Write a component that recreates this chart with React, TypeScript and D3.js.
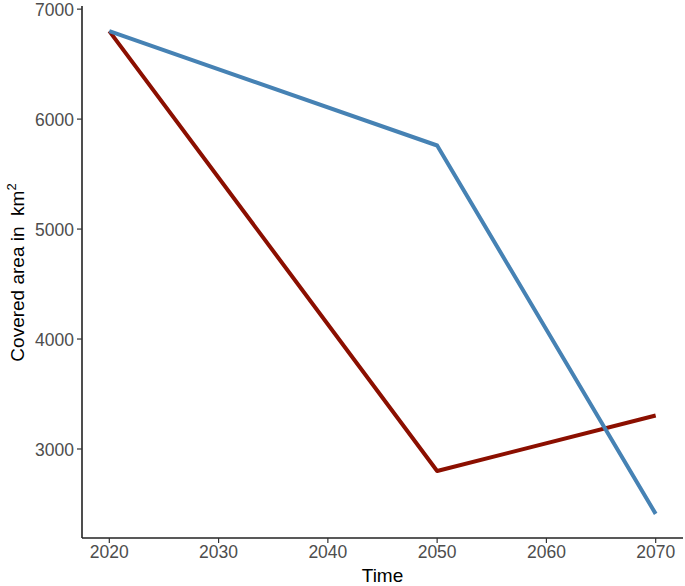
import React from "react";
import * as d3 from "d3";

const years = [2020, 2050, 2070];
const blueValues = [6800, 5760, 2410];
const redValues = [6800, 2800, 3305];
const xTicks = [2020, 2030, 2040, 2050, 2060, 2070];
const yTicks = [3000, 4000, 5000, 6000, 7000];

const W = 685;
const H = 586;
const left = 82;
const right = 683;
const top = 7;
const bottom = 538;

export default function App() {
  const allVals = [...blueValues, ...redValues];
  const yMin = d3.min(allVals)!;
  const yMax = d3.max(allVals)!;
  const yPad = (yMax - yMin) * 0.05;
  const xPad = (2070 - 2020) * 0.05;
  const x = d3.scaleLinear().domain([2020 - xPad, 2070 + xPad]).range([left, right]);
  const y = d3.scaleLinear().domain([yMin - yPad, yMax + yPad]).range([bottom, top]);
  const line = d3
    .line<number>()
    .x((_, i) => x(years[i]))
    .y((d) => y(d));
  const font = "'Liberation Sans', Arial, sans-serif";
  return (
    <svg
      width={W}
      height={H}
      style={{ position: "absolute", left: 0, top: 0, background: "white" }}
      fontFamily={font}
    >
      <path d={line(redValues)!} fill="none" stroke="#8B0F00" strokeWidth={4} strokeLinejoin="round" />
      <path d={line(blueValues)!} fill="none" stroke="#4682B4" strokeWidth={4} strokeLinejoin="round" />
      <line x1={left} x2={left} y1={top - 1} y2={bottom} stroke="#222" strokeWidth={1.6} />
      <line x1={left} x2={right} y1={bottom} y2={bottom} stroke="#222" strokeWidth={1.6} />
      {yTicks.map((t) => (
        <g key={t}>
          <line x1={left - 5} x2={left} y1={y(t)} y2={y(t)} stroke="#333" strokeWidth={1.2} />
          <text x={left - 8} y={y(t)} dy="0.38em" textAnchor="end" fontSize={17.5} fill="#4d4d4d">
            {t}
          </text>
        </g>
      ))}
      {xTicks.map((t) => (
        <g key={t}>
          <line x1={x(t)} x2={x(t)} y1={bottom} y2={bottom + 5} stroke="#333" strokeWidth={1.2} />
          <text x={x(t)} y={bottom + 20} textAnchor="middle" fontSize={17.5} fill="#4d4d4d">
            {t}
          </text>
        </g>
      ))}
      <text x={(left + right) / 2} y={582} textAnchor="middle" fontSize={19} fill="#000">
        Time
      </text>
      <text
        transform={`translate(24, ${(top + bottom) / 2}) rotate(-90)`}
        textAnchor="middle"
        fontSize={19}
        fill="#000"
      >
        Covered area in{"\u00A0\u00A0"}km
        <tspan fontSize={13} dy={-8}>2</tspan>
      </text>
    </svg>
  );
}
